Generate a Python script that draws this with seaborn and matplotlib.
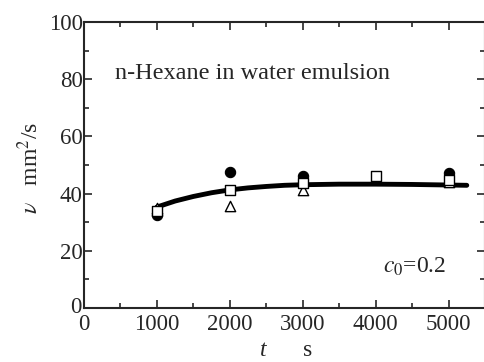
import numpy as np
import pandas as pd
import seaborn as sns
import matplotlib
matplotlib.use("Agg")
import matplotlib.pyplot as plt
import matplotlib.transforms as mtransforms
from matplotlib.ticker import MultipleLocator

# Data
t_circle = [1000, 2000, 3000, 5000]
v_circle = [32.6, 47.5, 46.3, 47.2]
t_square = [1000, 2000, 3000, 4000, 5000]
v_square = [33.9, 41.1, 43.7, 46.3, 44.8]
t_triangle = [1000, 2000, 3000, 5000]
v_triangle = [35.0, 35.5, 41.1, 44.2]
t_curve = [1000, 1250, 1500, 1750, 2000, 2250, 2500, 2750, 3000, 3500, 4000, 4500, 5000, 5250]
v_curve = [35.3, 37.4, 39.0, 40.3, 41.3, 42.0, 42.5, 42.9, 43.1, 43.3, 43.3, 43.2, 43.0, 42.9]

sns.set_style("ticks")
plt.rcParams['font.family'] = ['Liberation Serif', 'DejaVu Serif']
plt.rcParams['mathtext.fontset'] = 'stix'

fig = plt.figure(figsize=(4.84, 3.62), dpi=100)
ax = fig.add_axes([84/484, 1-308/362, 401/484, 286/362])

curve = pd.DataFrame({"t": t_curve, "v": v_curve})
sns.lineplot(data=curve, x="t", y="v", ax=ax, color="black", lw=3.5, zorder=2)

tri = pd.DataFrame({"t": t_triangle, "v": v_triangle})
sns.scatterplot(data=tri, x="t", y="v", ax=ax, marker="^", s=55,
                facecolor="white", edgecolor="black", linewidth=1.0, zorder=3)
circ = pd.DataFrame({"t": t_circle, "v": v_circle})
sns.scatterplot(data=circ, x="t", y="v", ax=ax, marker="o", s=55,
                color="black", edgecolor="black", linewidth=0.8, zorder=4)
sq = pd.DataFrame({"t": t_square, "v": v_square})
sns.scatterplot(data=sq, x="t", y="v", ax=ax, marker="s", s=50,
                facecolor="white", edgecolor="black", linewidth=1.0, zorder=5)

ax.set_xlim(0, 5500)
ax.set_ylim(0, 100)
ax.set_xticks([0, 1000, 2000, 3000, 4000, 5000])
ax.set_yticks([0, 20, 40, 60, 80, 100])
ax.xaxis.set_minor_locator(MultipleLocator(500))
ax.yaxis.set_minor_locator(MultipleLocator(10))
ax.tick_params(which="both", direction="in", top=True, right=True, width=1.2, labelsize=16.5, pad=1)
ax.tick_params(which="major", length=6)
ax.tick_params(which="minor", length=3.5)
ax.tick_params(axis="x", pad=4)
for s in ax.spines.values():
    s.set_linewidth(1.5)
ax.set_xlabel("")
ax.set_ylabel("")

# nudge the y "0" label up slightly, as in the reference
fig.canvas.draw()
ylab0 = ax.get_yticklabels()[0]
ylab0.set_transform(ylab0.get_transform() + mtransforms.ScaledTranslation(-1/100, 3/100, fig.dpi_scale_trans))

fig.text(263/484, 1-351/362, "t", fontsize=17, style="italic", ha="center", va="center")
fig.text(308/484, 1-351/362, "s", fontsize=17, ha="center", va="center")
fig.text(30/484, 1-168/362, r"$\nu$   mm$^2$/s", fontsize=17, rotation=90, ha="center", va="center")

ax.text(0.077, 0.82, "n-Hexane in water emulsion", transform=ax.transAxes, fontsize=17.5, ha="left", va="center")
ax.text(0.745, 0.145, r"$c_0$=0.2", transform=ax.transAxes, fontsize=17, ha="left", va="center")

fig.savefig("out.png", dpi=100)
